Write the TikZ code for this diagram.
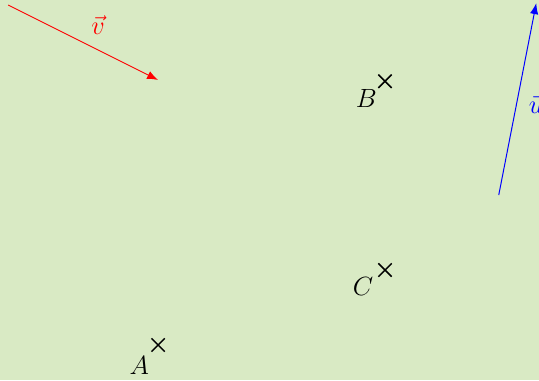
\documentclass[tikz,border=0pt]{standalone}
\usepackage{amsmath,amssymb}
\usepackage{tikz}
\usepackage{xcolor}
\usetikzlibrary{arrows.meta,shapes.misc}

\definecolor{bgpaper}{RGB}{217,234,196}

\begin{document}
\begin{tikzpicture}[
  pt/.style={cross out,draw=black,line width=0.65pt,minimum size=0.19cm,inner sep=0pt},
  lbl/.style={inner sep=0pt,font=\large},
  vec/.style={-{Latex[length=5pt,width=3.8pt]},line width=0.45pt}
]
\fill[bgpaper] (0,0) rectangle (8.624,6.08);
\useasboundingbox (0,0) rectangle (8.624,6.08);
\clip (0,0) rectangle (8.624,6.08);

% points
\node[pt] (A) at (2.53,0.56) {};
\node[pt] (B) at (6.16,4.78) {};
\node[pt] (C) at (6.16,1.76) {};
\node[lbl] (labA) at (2.23,0.24) {$A$};
\node[lbl] (labB) at (5.86,4.51) {$B$};
\node[lbl] (labC) at (5.81,1.50) {$C$};

% vectors
\coordinate (v0) at (0.13,6.00);
\coordinate (v1) at (2.53,4.80);
\coordinate (u0) at (7.98,2.96);
\coordinate (u1) at (8.58,6.03);
\draw[vec,red] (v0) -- (v1);
\draw[vec,blue] (u0) -- (u1);
\node[lbl,red] (labv) at (1.57,5.68) {$\vec{v}$};
\node[lbl,blue] (labu) at (8.58,4.42) {$\vec{u}$};
\end{tikzpicture}
\end{document}
